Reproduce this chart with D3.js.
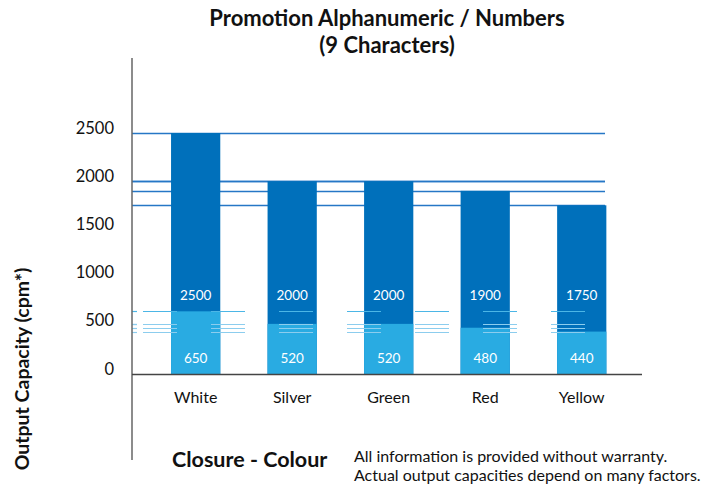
<!DOCTYPE html>
<html>
<head>
<meta charset="utf-8">
<script src="https://cdn.jsdelivr.net/npm/d3@7"></script>
<style>
  body { margin: 0; background: #fff; }
  svg { display: block; font-family: "Lato", "Open Sans", sans-serif; }
</style>
</head>
<body>
<svg id="chart" width="703" height="488"></svg>
<script>
// ── Data ─────────────────────────────────────────────────
const categories = ['White', 'Silver', 'Green', 'Red', 'Yellow'];
const maxValues  = [2500, 2000, 2000, 1900, 1750];
const minValues  = [650, 520, 520, 480, 440];
const yTicks     = [0, 500, 1000, 1500, 2000, 2500];
const titleLines = ['Promotion Alphanumeric / Numbers', '(9 Characters)'];
const noteLines  = ['All information is provided without warranty.',
                    'Actual output capacities depend on many factors.'];

const DARK  = '#0070bb';
const LIGHT = '#29abe2';

const svg = d3.select('#chart');

// ── Scales ───────────────────────────────────────────────
const x = d3.scaleBand()
  .domain(categories)
  .range([147.4, 630])
  .paddingInner(0.49)
  .paddingOuter(0.245);

const y = d3.scaleLinear()
  .domain([0, 2500])
  .range([374, 133]);

const plotL = 132, plotR = 605;

// ── Reference lines behind the bars ──────────────────────
svg.append('g')
  .selectAll('line')
  .data(maxValues)
  .join('line')
  .attr('x1', plotL).attr('x2', plotR)
  .attr('y1', d => Math.round(y(d)) + 0.5).attr('y2', d => Math.round(y(d)) + 0.5)
  .attr('stroke', '#2677c6')
  .attr('stroke-width', 1.3);

// ── Bars ─────────────────────────────────────────────────
const bars = svg.append('g');
bars.selectAll('.max')
  .data(categories)
  .join('rect')
  .attr('class', 'max')
  .attr('x', d => x(d))
  .attr('width', x.bandwidth())
  .attr('y', (d, i) => y(maxValues[i]))
  .attr('height', (d, i) => y(0) - y(maxValues[i]))
  .attr('fill', DARK);

bars.selectAll('.min')
  .data(categories)
  .join('rect')
  .attr('class', 'min')
  .attr('x', d => x(d))
  .attr('width', x.bandwidth())
  .attr('y', (d, i) => y(minValues[i]))
  .attr('height', (d, i) => y(0) - y(minValues[i]))
  .attr('fill', LIGHT);

// ── Light dashed reference lines (drawn over the bars) ───
const lightLines = svg.append('g');
minValues.forEach((v, i) => {
  const yy = Math.round(y(v)) + 0.5;
  const col = i === 0 ? '#4cb6e6' : '#8ccdee';
  lightLines.append('line')
    .attr('x1', plotL).attr('x2', plotL + 5)
    .attr('y1', yy).attr('y2', yy)
    .attr('stroke', col).attr('stroke-width', 1.2);
  lightLines.append('line')
    .attr('x1', plotL + 11).attr('x2', plotR)
    .attr('y1', yy).attr('y2', yy)
    .attr('stroke', col).attr('stroke-width', 1.2)
    .attr('stroke-dasharray', '34,34');
});

// ── Value labels ─────────────────────────────────────────
svg.append('g')
  .selectAll('text')
  .data(categories)
  .join('text')
  .attr('x', d => x(d) + x.bandwidth() / 2)
  .attr('y', y(770))
  .attr('text-anchor', 'middle')
  .attr('fill', '#fff')
  .attr('font-size', 13.5)
  .text((d, i) => maxValues[i]);

svg.append('g')
  .selectAll('text')
  .data(categories)
  .join('text')
  .attr('x', d => x(d) + x.bandwidth() / 2)
  .attr('y', y(115))
  .attr('text-anchor', 'middle')
  .attr('fill', '#fff')
  .attr('font-size', 13.5)
  .text((d, i) => minValues[i]);

// ── Axes ─────────────────────────────────────────────────
svg.append('line')
  .attr('x1', plotL).attr('x2', plotL)
  .attr('y1', 58).attr('y2', 460)
  .attr('stroke', '#666').attr('stroke-width', 1.5);

svg.append('line')
  .attr('x1', plotL).attr('x2', 642)
  .attr('y1', y(0) + 0.5).attr('y2', y(0) + 0.5)
  .attr('stroke', '#444').attr('stroke-width', 1.3);

const yAxis = svg.append('g')
  .attr('transform', 'translate(114,0)')
  .call(d3.axisLeft(y).tickValues(yTicks).tickFormat(d3.format('d')).tickSize(0).tickPadding(0));
yAxis.select('.domain').remove();
yAxis.selectAll('text')
  .attr('dy', 0)
  .attr('font-size', 16.5)
  .attr('font-family', 'Lato, sans-serif')
  .attr('fill', '#111');

const xAxis = svg.append('g')
  .attr('transform', `translate(0,${y(0)})`)
  .call(d3.axisBottom(x).tickSize(0).tickPadding(0));
xAxis.select('.domain').remove();
xAxis.selectAll('text')
  .attr('y', 29)
  .attr('dy', 0)
  .attr('font-size', 16)
  .attr('font-family', 'Lato, sans-serif')
  .attr('fill', '#111');

// ── Titles ───────────────────────────────────────────────
svg.append('g')
  .selectAll('text')
  .data(titleLines)
  .join('text')
  .attr('x', 387)
  .attr('y', (d, i) => 26 + i * 27)
  .attr('text-anchor', 'middle')
  .attr('font-size', 22)
  .attr('font-weight', 'bold')
  .attr('fill', '#111')
  .text(d => d);

svg.append('text')
  .attr('transform', 'translate(29,369) rotate(-90)')
  .attr('text-anchor', 'middle')
  .attr('font-size', 19.5)
  .attr('font-weight', 'bold')
  .attr('fill', '#111')
  .text('Output Capacity (cpm*)');

svg.append('text')
  .attr('x', 172)
  .attr('y', 467)
  .attr('font-size', 21.5)
  .attr('font-weight', 'bold')
  .attr('fill', '#111')
  .text('Closure - Colour');

svg.append('g')
  .selectAll('text')
  .data(noteLines)
  .join('text')
  .attr('x', 354)
  .attr('y', (d, i) => 462 + i * 19)
  .attr('font-size', 16)
  .attr('fill', '#111')
  .text(d => d);
</script>
</body>
</html>
